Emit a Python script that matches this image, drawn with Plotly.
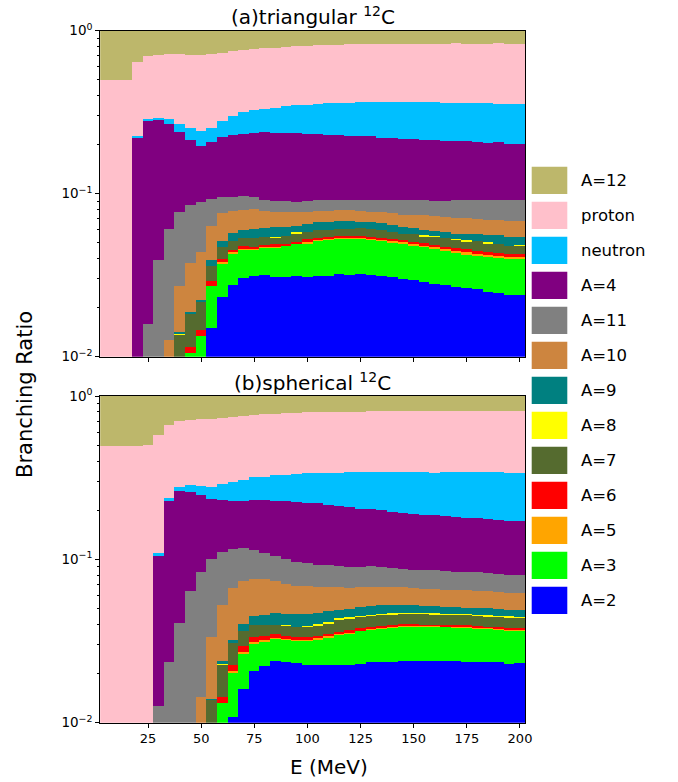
import numpy as np
import plotly.graph_objects as go

# Excitation energy grid (MeV), one 5 MeV wide bin per point
E = [5, 10, 15, 20, 25, 30, 35, 40, 45, 50, 55, 60, 65, 70, 75, 80, 85, 90, 95, 100,
     105, 110, 115, 120, 125, 130, 135, 140, 145, 150, 155, 160, 165, 170, 175, 180,
     185, 190, 195, 200]

# Channels from the bottom of the stack to the top
channels = ["A=2", "A=3", "A=5", "A=6", "A=7", "A=8", "A=9", "A=10", "A=11",
            "A=4", "neutron", "proton", "A=12"]
legend_order = ["A=12", "proton", "neutron", "A=4", "A=11", "A=10", "A=9", "A=8",
                "A=7", "A=6", "A=5", "A=3", "A=2"]
colors = {
    "A=12": "#BDB76B", "proton": "#FFC0CB", "neutron": "#00BFFF", "A=4": "#800080",
    "A=11": "#808080", "A=10": "#CD853F", "A=9": "#008080", "A=8": "#FFFF00",
    "A=7": "#556B2F", "A=6": "#FF0000", "A=5": "#FFA500", "A=3": "#00FF00",
    "A=2": "#0000FF",
}

# ---- (a) triangular 12C: cumulative branching ratio up to and including each channel
tri_A2 = [0, 0, 0, 0, 0, 0, 0, 0, 0, 0, 0.0150, 0.0233, 0.0275, 0.0305, 0.0313, 0.0317,
          0.0308, 0.0308, 0.0313, 0.0310, 0.0313, 0.0313, 0.0321, 0.0317, 0.0321, 0.0318,
          0.0313, 0.0308, 0.0302, 0.0295, 0.0287, 0.0282, 0.0275, 0.0268, 0.0264, 0.0260,
          0.0250, 0.0248, 0.0239, 0.0239]
tri_A3 = [0, 0, 0, 0, 0, 0, 0, 0, 0.01058, 0.01345, 0.0273, 0.0377, 0.0433, 0.0455, 0.0457,
          0.0469, 0.0471, 0.0480, 0.0494, 0.0500, 0.0515, 0.0525, 0.0532, 0.0532, 0.0530,
          0.0525, 0.0520, 0.0507, 0.0496, 0.0484, 0.0473, 0.0460, 0.0447, 0.0436, 0.0428,
          0.0418, 0.0411, 0.0407, 0.0401, 0.0401]
tri_A5 = [0, 0, 0, 0, 0, 0, 0, 0, 0.01058, 0.01345, 0.0273, 0.0383, 0.0440, 0.0463, 0.0463,
          0.0475, 0.0478, 0.0484, 0.0500, 0.0509, 0.0523, 0.0532, 0.0540, 0.0540, 0.0538,
          0.0532, 0.0527, 0.0515, 0.0505, 0.0494, 0.0483, 0.0470, 0.0457, 0.0448, 0.0440,
          0.0431, 0.0423, 0.0418, 0.0411, 0.0411]
tri_A6 = [0, 0, 0, 0, 0, 0, 0, 0, 0.01147, 0.01457, 0.0291, 0.0397, 0.0453, 0.0477, 0.0475,
          0.0486, 0.0491, 0.0493, 0.0510, 0.0527, 0.0537, 0.0545, 0.0555, 0.0555, 0.0553,
          0.0545, 0.0540, 0.0530, 0.0520, 0.0510, 0.0498, 0.0484, 0.0473, 0.0466, 0.0457,
          0.0449, 0.0441, 0.0435, 0.0427, 0.0427]
tri_A7 = [0, 0, 0, 0, 0, 0, 0, 0.0138, 0.0185, 0.0216, 0.0363, 0.0471, 0.0512, 0.0535,
          0.0540, 0.0542, 0.0540, 0.0550, 0.0571, 0.0587, 0.0604, 0.0604, 0.0613, 0.0613,
          0.0616, 0.0607, 0.0598, 0.0585, 0.0571, 0.0571, 0.0550, 0.0545, 0.0540, 0.0525,
          0.0512, 0.0512, 0.0498, 0.0496, 0.0482, 0.0481]
tri_A8 = [0, 0, 0, 0, 0, 0, 0, 0.0140, 0.0185, 0.0216, 0.0363, 0.0471, 0.0512, 0.0535,
          0.0540, 0.0542, 0.0547, 0.0550, 0.0582, 0.0587, 0.0604, 0.0604, 0.0613, 0.0613,
          0.0616, 0.0607, 0.0598, 0.0585, 0.0571, 0.0571, 0.0558, 0.0552, 0.0540, 0.0530,
          0.0520, 0.0512, 0.0505, 0.0496, 0.0482, 0.0486]
tri_A9 = [0, 0, 0, 0, 0, 0, 0, 0.0142, 0.0188, 0.0223, 0.0392, 0.0512, 0.0576, 0.0604,
          0.0613, 0.0622, 0.0624, 0.0624, 0.0636, 0.0658, 0.0673, 0.0673, 0.0679, 0.0679,
          0.0673, 0.0673, 0.0661, 0.0645, 0.0630, 0.0622, 0.0604, 0.0590, 0.0582, 0.0571,
          0.0571, 0.0566, 0.0558, 0.0558, 0.0542, 0.0542]
tri_A10 = [0, 0, 0, 0, 0, 0, 0.0128, 0.0271, 0.0375, 0.0439, 0.0633, 0.0761, 0.0790, 0.0801,
           0.0809, 0.0783, 0.0779, 0.0779, 0.0772, 0.0775, 0.0783, 0.0783, 0.0794, 0.0794,
           0.0787, 0.0772, 0.0772, 0.0761, 0.0747, 0.0740, 0.0740, 0.0730, 0.0723, 0.0713,
           0.0713, 0.0699, 0.0696, 0.0689, 0.0679, 0.0679]
tri_A11 = [0, 0, 0, 0, 0.0159, 0.0392, 0.0607, 0.0772, 0.0860, 0.0889, 0.0928, 0.0954,
           0.0963, 0.0972, 0.0954, 0.0915, 0.0910, 0.0902, 0.0893, 0.0902, 0.0915, 0.0915,
           0.0915, 0.0915, 0.0923, 0.0915, 0.0915, 0.0915, 0.0915, 0.0915, 0.0915, 0.0906,
           0.0910, 0.0923, 0.0923, 0.0923, 0.0923, 0.0923, 0.0923, 0.0923]
tri_A4 = [0, 0, 0, 0.223, 0.283, 0.283, 0.268, 0.239, 0.2155, 0.197, 0.2075, 0.223, 0.231,
          0.2345, 0.238, 0.240, 0.2367, 0.2367, 0.2367, 0.2345, 0.232, 0.229, 0.231, 0.228,
          0.226, 0.226, 0.2216, 0.2195, 0.2164, 0.2164, 0.2134, 0.2134, 0.2114, 0.2114,
          0.2104, 0.2075, 0.2056, 0.2075, 0.2036, 0.2036]
tri_neutron = [0, 0, 0, 0.227, 0.290, 0.294, 0.287, 0.270, 0.255, 0.242, 0.255, 0.279, 0.300,
               0.317, 0.326, 0.334, 0.339, 0.345, 0.350, 0.353, 0.355, 0.360, 0.363, 0.363,
               0.365, 0.365, 0.367, 0.367, 0.365, 0.365, 0.365, 0.365, 0.363, 0.362, 0.362,
               0.360, 0.360, 0.358, 0.357, 0.357]
tri_proton = [0.498, 0.498, 0.498, 0.645, 0.699, 0.709, 0.722, 0.722, 0.712, 0.712, 0.722,
              0.733, 0.750, 0.761, 0.772, 0.783, 0.790, 0.798, 0.805, 0.809, 0.817, 0.821,
              0.825, 0.828, 0.828, 0.828, 0.828, 0.828, 0.828, 0.828, 0.828, 0.836, 0.832,
              0.840, 0.836, 0.832, 0.836, 0.840, 0.828, 0.828]

# ---- (b) spherical 12C: cumulative branching ratio up to and including each channel
sph_A2 = [0, 0, 0, 0, 0, 0, 0, 0, 0, 0, 0, 0, 0.0109, 0.0161, 0.0206, 0.0223, 0.0239, 0.0234,
          0.0232, 0.0226, 0.0224, 0.0224, 0.0224, 0.0226, 0.0228, 0.0234, 0.0234, 0.0236,
          0.0239, 0.0239, 0.0239, 0.0239, 0.0237, 0.0239, 0.0235, 0.0234, 0.0234, 0.0236,
          0.0228, 0.0231]
sph_A3 = [0, 0, 0, 0, 0, 0, 0, 0, 0, 0, 0, 0.0132, 0.0203, 0.0267, 0.0307, 0.0314, 0.0326,
          0.0322, 0.0317, 0.0317, 0.0325, 0.0334, 0.0345, 0.0354, 0.0365, 0.0374, 0.0378,
          0.0383, 0.0388, 0.0388, 0.0387, 0.0388, 0.0387, 0.0383, 0.0385, 0.0379, 0.0376,
          0.0374, 0.0367, 0.0367]
sph_A5 = [0, 0, 0, 0, 0, 0, 0, 0, 0, 0, 0, 0.0132, 0.0207, 0.0270, 0.0312, 0.0319, 0.0331,
          0.0326, 0.0322, 0.0322, 0.0329, 0.0338, 0.0349, 0.0358, 0.0369, 0.0377, 0.0382,
          0.0387, 0.0392, 0.0392, 0.0391, 0.0391, 0.0390, 0.0387, 0.0388, 0.0383, 0.0380,
          0.0378, 0.0371, 0.0371]
sph_A6 = [0, 0, 0, 0, 0, 0, 0, 0, 0, 0, 0, 0.0143, 0.0224, 0.0293, 0.0333, 0.0340, 0.0350,
          0.0340, 0.0337, 0.0337, 0.0340, 0.0350, 0.0360, 0.0367, 0.0378, 0.0385, 0.0392,
          0.0398, 0.0401, 0.0401, 0.0399, 0.0399, 0.0398, 0.0396, 0.0394, 0.0392, 0.0388,
          0.0388, 0.0379, 0.0379]
sph_A7 = [0, 0, 0, 0, 0, 0, 0, 0, 0, 0, 0.0138, 0.0227, 0.0307, 0.0365, 0.0394, 0.0394,
          0.0398, 0.0392, 0.0388, 0.0387, 0.0396, 0.0407, 0.0427, 0.0437, 0.0445, 0.0451,
          0.0458, 0.0462, 0.0464, 0.0464, 0.0464, 0.0462, 0.0460, 0.0460, 0.0458, 0.0451,
          0.0449, 0.0445, 0.0441, 0.0439]
sph_A8 = [0, 0, 0, 0, 0, 0, 0, 0, 0, 0, 0.0138, 0.0230, 0.0307, 0.0365, 0.0394, 0.0394,
          0.0398, 0.0395, 0.0388, 0.0392, 0.0401, 0.0413, 0.0435, 0.0443, 0.0451, 0.0458,
          0.0464, 0.0468, 0.0470, 0.0470, 0.0470, 0.0468, 0.0466, 0.0466, 0.0464, 0.0458,
          0.0456, 0.0451, 0.0447, 0.0445]
sph_A9 = [0, 0, 0, 0, 0, 0, 0, 0, 0, 0, 0.0140, 0.0237, 0.0322, 0.0403, 0.0453, 0.0458,
          0.0471, 0.0464, 0.0464, 0.0462, 0.0468, 0.0480, 0.0491, 0.0498, 0.0512, 0.0517,
          0.0524, 0.0527, 0.0524, 0.0522, 0.0519, 0.0517, 0.0514, 0.0510, 0.0507, 0.0502,
          0.0502, 0.0498, 0.0491, 0.0491]
sph_A10 = [0, 0, 0, 0, 0, 0, 0, 0, 0, 0.0144, 0.0333, 0.0527, 0.0669, 0.0739, 0.0760, 0.0753,
           0.0739, 0.0708, 0.0689, 0.0689, 0.0682, 0.0682, 0.0676, 0.0672, 0.0676, 0.0676,
           0.0679, 0.0679, 0.0676, 0.0669, 0.0660, 0.0657, 0.0651, 0.0648, 0.0648, 0.0642,
           0.0639, 0.0627, 0.0621, 0.0621]
sph_A11 = [0, 0, 0, 0, 0, 0.0127, 0.0236, 0.0407, 0.0642, 0.0834, 0.1007, 0.111, 0.1153,
           0.117, 0.1143, 0.110, 0.1055, 0.1002, 0.0965, 0.0947, 0.0926, 0.0921, 0.0912,
           0.0900, 0.0900, 0.0912, 0.0896, 0.0883, 0.0875, 0.0863, 0.0855, 0.0855, 0.0847,
           0.0839, 0.0839, 0.0831, 0.0823, 0.0815, 0.0804, 0.0804]
sph_A4 = [0, 0, 0, 0, 0, 0.105, 0.227, 0.262, 0.259, 0.247, 0.234, 0.232, 0.229, 0.229,
          0.231, 0.230, 0.228, 0.227, 0.2247, 0.2227, 0.2206, 0.2155, 0.2125, 0.2095, 0.2047,
          0.2047, 0.2009, 0.1962, 0.1934, 0.1898, 0.1872, 0.1872, 0.1845, 0.1828, 0.1803,
          0.1786, 0.1761, 0.1745, 0.1720, 0.1720]
sph_neutron = [0, 0, 0, 0, 0, 0.1096, 0.238, 0.276, 0.284, 0.281, 0.276, 0.290, 0.296, 0.306,
               0.320, 0.321, 0.327, 0.329, 0.335, 0.337, 0.337, 0.340, 0.340, 0.343, 0.343,
               0.343, 0.343, 0.343, 0.343, 0.343, 0.343, 0.340, 0.343, 0.343, 0.343, 0.343,
               0.343, 0.343, 0.338, 0.338]
sph_proton = [0.497, 0.497, 0.497, 0.497, 0.502, 0.577, 0.665, 0.700, 0.713, 0.720, 0.727,
              0.737, 0.747, 0.758, 0.765, 0.772, 0.780, 0.787, 0.791, 0.797, 0.798, 0.798,
              0.798, 0.798, 0.798, 0.810, 0.810, 0.810, 0.810, 0.810, 0.810, 0.810, 0.810,
              0.810, 0.810, 0.810, 0.810, 0.810, 0.810, 0.810]

tri_levels = [tri_A2, tri_A3, tri_A5, tri_A6, tri_A7, tri_A8, tri_A9, tri_A10, tri_A11,
              tri_A4, tri_neutron, tri_proton]
sph_levels = [sph_A2, sph_A3, sph_A5, sph_A6, sph_A7, sph_A8, sph_A9, sph_A10, sph_A11,
              sph_A4, sph_neutron, sph_proton]

W, H = 678, 782


def px_x(x):
    return x / W


def px_y(y):
    return 1 - y / H


fig = go.Figure()

# Each channel's branching ratio = difference of consecutive cumulative levels
for levels, xa, ya in [(tri_levels, "x", "y"), (sph_levels, "x2", "y2")]:
    n = len(E)
    stack = np.vstack([np.zeros(n)] + [np.asarray(v, float) for v in levels] + [np.ones(n)])
    ratios = np.clip(np.diff(stack, axis=0), 0, None)
    for ch, r in zip(channels, ratios):
        fig.add_trace(go.Bar(
            x=E, y=r, width=5, xaxis=xa, yaxis=ya,
            marker=dict(color=colors[ch], line=dict(width=0)),
            showlegend=False, hoverinfo="skip", name=ch,
        ))

font = "DejaVu Sans"
xdom = [px_x(100.2), px_x(525.3)]
dom_a = [px_y(356.7), px_y(30.7)]
dom_b = [px_y(722.7), px_y(396.0)]

ytickvals = [0.01, 0.1, 1]
yticktext = ["10<sup>\u22122</sup>", "10<sup>\u22121</sup>", "10<sup>0</sup>"]
yminor = [m * d for d in (0.01, 0.1) for m in range(2, 10)]
xtickvals = [25, 50, 75, 100, 125, 150, 175, 200]

common_x = dict(range=[2.5, 202.5], tickvals=xtickvals, ticks="outside", ticklen=4,
                tickwidth=1, tickcolor="black", showline=True, linecolor="black",
                linewidth=1, mirror=True, showgrid=False, zeroline=False,
                tickfont=dict(family=font, size=13, color="black"), domain=xdom)
common_y = dict(type="log", range=[-2, 0], tickvals=ytickvals, ticktext=yticktext,
                ticks="outside", ticklen=4, tickwidth=1, tickcolor="black",
                minor=dict(tickvals=yminor, ticks="outside", ticklen=2, tickwidth=0.8,
                           tickcolor="black", showgrid=False),
                showline=True, linecolor="black", linewidth=1, mirror=True,
                showgrid=False, zeroline=False,
                tickfont=dict(family=font, size=13.5, color="black"))

fig.update_layout(
    width=W, height=H, margin=dict(l=0, r=0, t=0, b=0, autoexpand=False),
    paper_bgcolor="white", plot_bgcolor="white",
    barmode="stack", bargap=0, bargroupgap=0,
    font=dict(family=font, color="black"),
    xaxis=dict(common_x, anchor="y", showticklabels=False),
    yaxis=dict(common_y, anchor="x", domain=dom_a),
    xaxis2=dict(common_x, anchor="y2", showticklabels=True),
    yaxis2=dict(common_y, anchor="x2", domain=dom_b),
)

annotations = [
    dict(text="(a)triangular <sup>12</sup>C", x=px_x(312.7), y=px_y(16),
         xanchor="center", yanchor="middle", font=dict(size=20)),
    dict(text="(b)spherical <sup>12</sup>C", x=px_x(312.7), y=px_y(382),
         xanchor="center", yanchor="middle", font=dict(size=20)),
    dict(text="E (MeV)", x=px_x(329), y=px_y(767), xanchor="center", yanchor="middle",
         font=dict(size=20)),
    dict(text="Branching Ratio", x=px_x(25), y=px_y(395), xanchor="center",
         yanchor="middle", textangle=-90, font=dict(size=21)),
]

# Legend: colour patches with labels, top to bottom
shapes = []
for k, ch in enumerate(legend_order):
    yc = 180.3 + 35 * k
    shapes.append(dict(type="rect", xref="paper", yref="paper",
                       x0=px_x(531.7), x1=px_x(567.3), y0=px_y(yc + 13.6), y1=px_y(yc - 13.6),
                       fillcolor=colors[ch], line=dict(width=0)))
    annotations.append(dict(text=ch, x=px_x(579), y=px_y(yc), xanchor="left",
                            yanchor="middle", font=dict(size=16.5)))

for a in annotations:
    a.update(xref="paper", yref="paper", showarrow=False)
    a["font"] = dict(a["font"], family=font, color="black")

fig.update_layout(annotations=annotations, shapes=shapes)

# Page without body margins so the figure fills the window exactly
fig.write_html(
    "out.html",
    config={"displayModeBar": False},
    post_script="document.body.style.margin='0px';document.body.style.overflow='hidden';",
)
